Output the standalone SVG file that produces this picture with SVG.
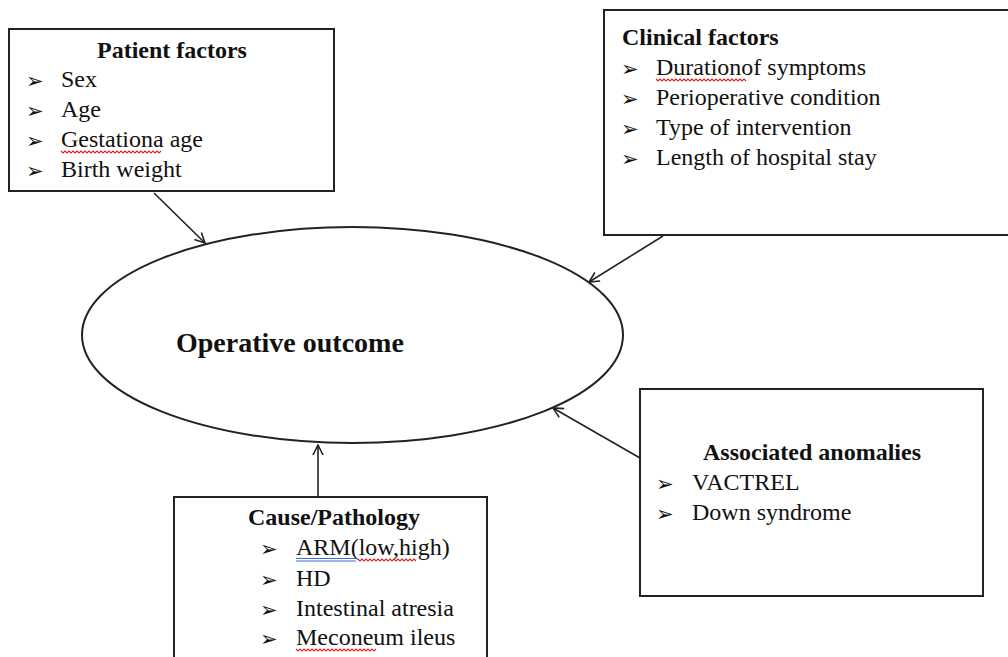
<svg xmlns="http://www.w3.org/2000/svg" width="1008" height="657" viewBox="0 0 1008 657">
<style>
.box{fill:#fff;stroke:#222;stroke-width:2}
.t{font-family:"Liberation Serif","Times New Roman","DejaVu Serif",serif;font-size:24px;fill:#111}
.b{font-weight:bold}
.bul{font-family:"DejaVu Sans",sans-serif;font-size:21px;fill:#111}
.con{stroke:#222;stroke-width:1.6;fill:none;marker-end:url(#ah)}
.sq{fill:none;stroke:#e02020;stroke-width:1.1}
</style>
<defs>
<marker id="ah" viewBox="0 0 12 12" refX="11" refY="6" markerWidth="12" markerHeight="12" markerUnits="userSpaceOnUse" orient="auto">
<path d="M1,1 L11,6 L1,11" fill="none" stroke="#222" stroke-width="1.6"/>
</marker>
</defs>
<rect width="1008" height="657" fill="#fff"/>

<g id="outcome">
<ellipse cx="352.5" cy="335" rx="270.5" ry="108" fill="#fff" stroke="#222" stroke-width="2"/>
<text class="t b" x="176" y="352" style="font-size:28px">Operative outcome</text>
</g>

<g id="patient">
<rect class="box" x="9" y="29" width="325" height="162"/>
<text class="t b" x="97" y="58">Patient factors</text>
<text class="bul" x="26" y="88">➢</text><text class="t" x="61" y="87">Sex</text>
<text class="bul" x="26" y="118">➢</text><text class="t" x="61" y="117">Age</text>
<text class="bul" x="26" y="148">➢</text><text class="t" x="61" y="147">Gestationa age</text>
<text class="bul" x="26" y="178">➢</text><text class="t" x="61" y="177">Birth weight</text>
<polyline class="sq" points="61,151 63,153 65,151 67,153 69,151 71,153 73,151 75,153 77,151 79,153 81,151 83,153 85,151 87,153 89,151 91,153 93,151 95,153 97,151 99,153 101,151 103,153 105,151 107,153 109,151 111,153 113,151 115,153 117,151 119,153 121,151 123,153 125,151 127,153 129,151 131,153 133,151 135,153 137,151 139,153 141,151 143,153 145,151 147,153 149,151 151,153 153,151 155,153 157,151 159,153 161,151"/>
</g>

<g id="clinical">
<rect class="box" x="604" y="10" width="420" height="225"/>
<text class="t b" x="622" y="45">Clinical factors</text>
<text class="bul" x="621" y="76">➢</text><text class="t" x="656" y="75">Durationof symptoms</text>
<text class="bul" x="621" y="106">➢</text><text class="t" x="656" y="105">Perioperative condition</text>
<text class="bul" x="621" y="136">➢</text><text class="t" x="656" y="135">Type of intervention</text>
<text class="bul" x="621" y="166">➢</text><text class="t" x="656" y="165">Length of hospital stay</text>
<polyline class="sq" points="656,79 658,81 660,79 662,81 664,79 666,81 668,79 670,81 672,79 674,81 676,79 678,81 680,79 682,81 684,79 686,81 688,79 690,81 692,79 694,81 696,79 698,81 700,79 702,81 704,79 706,81 708,79 710,81 712,79 714,81 716,79 718,81 720,79 722,81 724,79 726,81 728,79 730,81 732,79 734,81 736,79 738,81 740,79 742,81 744,79 746,81"/>
</g>

<g id="associated">
<rect class="box" x="640" y="389" width="343" height="207"/>
<text class="t b" x="703" y="460">Associated anomalies</text>
<text class="bul" x="656" y="491">➢</text><text class="t" x="692" y="490">VACTREL</text>
<text class="bul" x="656" y="521">➢</text><text class="t" x="692" y="520">Down syndrome</text>
</g>

<g id="cause">
<rect class="box" x="174" y="497" width="313" height="200"/>
<text class="t b" x="248" y="525">Cause/Pathology</text>
<text class="bul" x="260" y="556">➢</text><text class="t" x="296" y="555">ARM(low,high)</text>
<text class="bul" x="260" y="587">➢</text><text class="t" x="296" y="586">HD</text>
<text class="bul" x="260" y="617">➢</text><text class="t" x="296" y="616">Intestinal atresia</text>
<text class="bul" x="260" y="646">➢</text><text class="t" x="296" y="645">Meconeum ileus</text>
<line x1="296" y1="558.5" x2="356" y2="558.5" stroke="#3a6fd8" stroke-width="1"/>
<line x1="296" y1="561" x2="356" y2="561" stroke="#3a6fd8" stroke-width="1"/>
<polyline class="sq" points="358,559 360,561 362,559 364,561 366,559 368,561 370,559 372,561 374,559 376,561 378,559 380,561 382,559 384,561 386,559 388,561 390,559 392,561 394,559 396,561 398,559 400,561 402,559 404,561 406,559 408,561 410,559 412,561 414,559 416,561"/>
<polyline class="sq" points="296,649 298,651 300,649 302,651 304,649 306,651 308,649 310,651 312,649 314,651 316,649 318,651 320,649 322,651 324,649 326,651 328,649 330,651 332,649 334,651 336,649 338,651 340,649 342,651 344,649 346,651 348,649 350,651 352,649 354,651 356,649 358,651 360,649 362,651 364,649 366,651 368,649 370,651 372,649 374,651 376,649"/>
</g>

<g id="connectors">
<line class="con" x1="154" y1="193" x2="205" y2="243"/>
<line class="con" x1="663" y1="236" x2="589" y2="282"/>
<line class="con" x1="640" y1="458" x2="553" y2="408"/>
<line class="con" x1="318" y1="497" x2="318" y2="445"/>
</g>
</svg>
